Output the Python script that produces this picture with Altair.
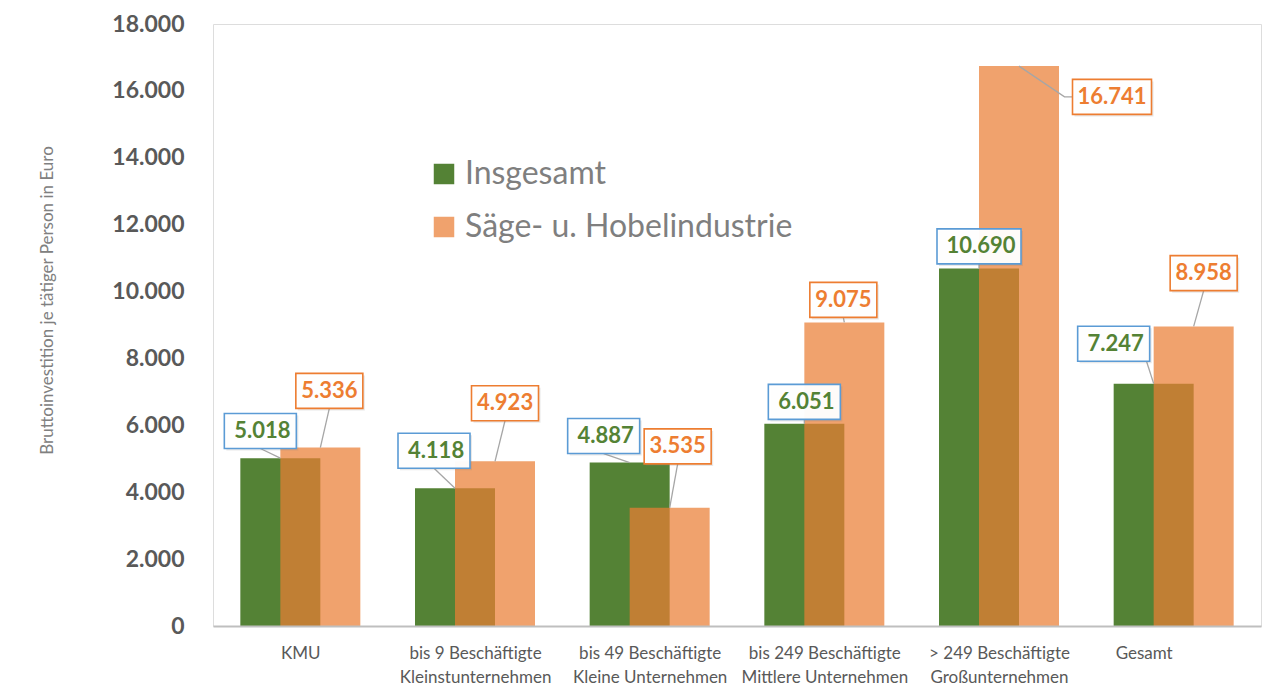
import altair as alt
import pandas as pd

# ---------------- data ----------------
categories = [
    "KMU",
    "bis 9 Beschäftigte|Kleinstunternehmen",
    "bis 49 Beschäftigte|Kleine Unternehmen",
    "bis 249 Beschäftigte|Mittlere Unternehmen",
    "> 249 Beschäftigte|Großunternehmen",
    "Gesamt",
]
series_names = ["Insgesamt", "Säge- u. Hobelindustrie"]
insgesamt = [5018, 4118, 4887, 6051, 10690, 7247]
saege = [5336, 4923, 3535, 9075, 16741, 8958]
y_ticks = [0, 2000, 4000, 6000, 8000, 10000, 12000, 14000, 16000, 18000]

# annotation placement (label box centre: px offset from category centre, value units)
lbl_dx_ins = [-40, -41, -46, -20, -20, -60]
lbl_y_ins = [5830, 5240, 5680, 6700, 11350, 8440]
lbl_dx_sae = [29, 30, 28, 19, 113, 30]
lbl_y_sae = [7030, 6660, 5370, 9750, 15820, 10550]

# ---------------- geometry / style ----------------
W, H = 1048, 602
XMAX, YMAX = 6, 18000
PXX = XMAX / W
PXY = YMAX / H
GREEN = "#548235"
ORANGE_T = "rgba(234,126,52,0.72)"
ORANGE_TXT = "#ED7D31"
BLUE = "#5B9BD5"
FONT = "Lato"

# bars
bar_rows = []
for i, (a, b) in enumerate(zip(insgesamt, saege)):
    c = i + 0.5
    bar_rows.append(dict(series=series_names[0], value=a, x0=c - 60 * PXX, x1=c + 20 * PXX, o=0))
    bar_rows.append(dict(series=series_names[1], value=b, x0=c - 20 * PXX, x1=c + 60 * PXX, o=1))
bars = pd.DataFrame(bar_rows)


def box_shape(w, h):
    r = h / w
    return f"M-1,{-r}H1V{r}H-1Z"


lab_rows = []
lead_rows = []
for s, (vals, dxs, ys, border, tcol, bar_dx) in enumerate([
    (insgesamt, lbl_dx_ins, lbl_y_ins, BLUE, GREEN, -20),
    (saege, lbl_dx_sae, lbl_y_sae, ORANGE_TXT, ORANGE_TXT, 20),
]):
    for i, v in enumerate(vals):
        c = i + 0.5
        txt = f"{v:,}".replace(",", ".")
        w = 72 if s == 0 else 67
        if v >= 10000:
            w += 12
        h = 35
        bx = c + dxs[i] * PXX
        by = ys[i]
        lab_rows.append(dict(x=bx, y=by, text=txt, shape=box_shape(w, h), size=w * w,
                             stroke=border, tcol=tcol, tx=bx + (2 * PXX if s == 0 else 0)))
        # leader line: bar top (centre of bar) -> box anchor
        lid = f"{s}-{i}"
        pts = [(c + bar_dx * PXX, v)]
        if s == 1 and i == 4:
            pts.append((bx - (w / 2 + 8) * PXX, by))
            pts.append((bx - (w / 2) * PXX, by))
        elif s == 0 and i == 5:
            pts.append((bx + 33 * PXX, by - 18 * PXY))
        else:
            pts.append((bx, by - (h / 2) * PXY))
        for k, (px, py) in enumerate(pts):
            lead_rows.append(dict(id=lid, k=k, x=px, y=py))
labels = pd.DataFrame(lab_rows)
leaders = pd.DataFrame(lead_rows)

# ---------------- scales / axes ----------------
names_js = "[" + ",".join("'" + c + "'" for c in categories) + "]"
x_scale = alt.Scale(domain=[0, XMAX], nice=False, zero=False)
y_scale = alt.Scale(domain=[0, YMAX], nice=False)

x_axis = alt.Axis(
    values=[i + 0.5 for i in range(len(categories))],
    labelExpr=f"split({names_js}[round(datum.value - 0.5)], '|')",
    title=None, grid=False, ticks=False,
    labelFont=FONT, labelFontSize=17, labelColor="#595959",
    labelPadding=19, labelLineHeight=24, labelFlush=False, labelOverlap=False,
    labelBaseline="top",
    labelOffset={"condition": {"test": "datum.value > 5", "value": -30}, "value": 0},
    domainColor="#BFBFBF", domainWidth=2, zindex=1,
)
y_axis = alt.Axis(
    values=y_ticks,
    labelExpr="replace(format(datum.value, ',d'), ',', '.')",
    title="Bruttoinvestition je tätiger Person in Euro",
    titleFont=FONT, titleFontSize=17, titleFontWeight="normal", titleColor="#808080",
    titleX=-166, titleY=276, titleAlign="center", titleBaseline="middle", titleAngle=270,
    grid=False, ticks=False, domain=False,
    labelFont=FONT, labelFontSize=23, labelFontWeight="bold", labelColor="#595959",
    labelPadding=29,
)

color = alt.Color(
    "series:N",
    scale=alt.Scale(domain=series_names, range=[GREEN, ORANGE_T]),
    legend=alt.Legend(
        title=None, orient="none", legendX=215, legendY=134,
        symbolType="square", symbolSize=420, symbolStrokeWidth=0,
        labelFont=FONT, labelFontSize=32, labelColor="#7F7F7F",
        labelOffset=5, rowPadding=21, labelLimit=0,
    ),
)

base_bars = alt.Chart(bars).mark_bar().encode(
    x=alt.X("x0:Q", scale=x_scale, axis=x_axis),
    x2="x1:Q",
    y=alt.Y("value:Q", scale=y_scale, axis=y_axis),
    y2=alt.datum(0),
    color=color,
)
green_bars = base_bars.transform_filter("datum.o == 0")
orange_bars = base_bars.transform_filter("datum.o == 1")

lead = alt.Chart(leaders).mark_line(color="#A6A6A6", strokeWidth=1.3).encode(
    x="x:Q", y="y:Q", detail="id:N", order="k:Q"
)

shadow = alt.Chart(labels).mark_point(filled=True, xOffset=2, yOffset=2, opacity=0.18,
                                      color="#7F7F7F").encode(
    x="x:Q", y="y:Q",
    shape=alt.Shape("shape:N", scale=None),
    size=alt.Size("size:Q", scale=None),
)
boxes = alt.Chart(labels).mark_point(filled=True, fill="white", opacity=1,
                                     strokeWidth=1.6, fillOpacity=0.96).encode(
    x="x:Q", y="y:Q",
    shape=alt.Shape("shape:N", scale=None),
    size=alt.Size("size:Q", scale=None),
    stroke=alt.Stroke("stroke:N", scale=None),
)
texts = alt.Chart(labels).mark_text(font=FONT, fontWeight="bold", fontSize=22,
                                    align="center", baseline="middle").encode(
    x="tx:Q", y="y:Q", text="text:N",
    color=alt.Color("tcol:N", scale=None),
)

chart = alt.layer(green_bars, orange_bars, lead, shadow, boxes, texts).properties(
    width=W, height=H,
    autosize=alt.AutoSizeParams(type="none"),
    padding={"left": 205, "top": 16, "right": 1, "bottom": 64},
).configure_view(stroke="#A3B6CD", strokeWidth=1.5).configure(background="white")

chart.save("out.html", embed_options={"renderer": "svg", "actions": False})
